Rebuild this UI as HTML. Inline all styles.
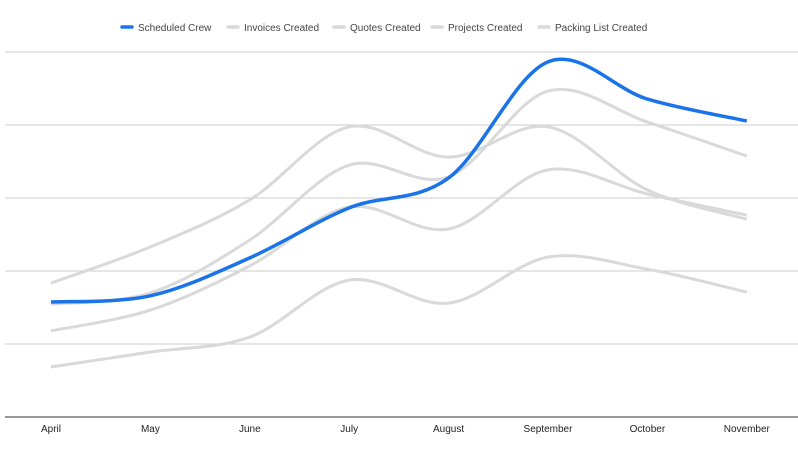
<!DOCTYPE html>
<html><head><meta charset="utf-8"><style>
body{margin:0;background:#fff;font-family:"Liberation Sans",Arial,sans-serif}
svg{display:block}
</style></head><body>
<svg id="chart" width="798" height="456" xmlns="http://www.w3.org/2000/svg"></svg>
<script>
const categories=["April","May","June","July","August","September","October","November"];
const seriesNames=["Scheduled Crew","Invoices Created","Quotes Created","Projects Created","Packing List Created"];
const scheduledCrew=[31.5,33.2,43.6,57.3,65.5,97.3,87.1,81.1];
const invoicesCreated=[36.7,46.6,59.5,79.5,71.2,79.5,62.2,54.2];
const quotesCreated=[30.9,34.0,48.5,69.0,65.8,89.3,80.8,71.5];
const projectsCreated=[23.6,29.3,41.4,57.5,51.5,67.7,61.1,55.3];
const packingListCreated=[13.7,17.8,21.9,37.5,31.2,43.8,40.5,34.2];
const yTicks=[0,20,40,60,80,100];

const NS="http://www.w3.org/2000/svg";
const svg=document.getElementById('chart');
const x=i=>51+i*99.4;
const y=v=>417-v*3.65;
function mk(t,a){const e=document.createElementNS(NS,t);for(const k in a)e.setAttribute(k,a[k]);return e;}
yTicks.forEach(t=>{
  const l=mk('line',{x1:5,x2:798,y1:y(t),y2:y(t),stroke:t===0?'#333':'#ccc','stroke-width':1});
  
  
  svg.appendChild(l);
});
categories.forEach((c,i)=>{
  const t=mk('text',{x:x(i),y:432,'text-anchor':'middle','font-size':10,fill:'#222'});
  t.textContent=c;
  
  
  svg.appendChild(t);
});
function path(vals){
  const p=vals.map((v,i)=>[x(i),y(v)]);
  let d=`M${p[0][0]},${p[0][1]}`;
  for(let i=0;i<p.length-1;i++){
    const p0=p[i-1]||p[i],p1=p[i],p2=p[i+1],p3=p[i+2]||p[i+1];
    const k=1/6;
    d+=` C${p1[0]+(p2[0]-p0[0])*k},${p1[1]+(p2[1]-p0[1])*k} ${p2[0]-(p3[0]-p1[0])*k},${p2[1]-(p3[1]-p1[1])*k} ${p2[0]},${p2[1]}`;
  }
  return d;
}
const greys=[invoicesCreated,quotesCreated,projectsCreated,packingListCreated];
greys.forEach((s,i)=>{
  const e=mk('path',{d:path(s),fill:'none',stroke:'#d9d9d9','stroke-width':3});
  
  
  svg.appendChild(e);
});
const b=mk('path',{d:path(scheduledCrew),fill:'none',stroke:'#1a73e8','stroke-width':3.5});


svg.appendChild(b);
const lx=[122,228,334,432,539];
seriesNames.forEach((n,i)=>{
  const g=mk('g',{});
  
  
  g.appendChild(mk('line',{x1:lx[i],x2:lx[i]+10,y1:27,y2:27,stroke:i===0?'#1a73e8':'#d9d9d9','stroke-width':3.5,'stroke-linecap':'round'}));
  const t=mk('text',{x:lx[i]+16,y:31,'font-size':10,fill:'#444'});
  t.textContent=n;
  g.appendChild(t);
  svg.appendChild(g);
});
</script>
</body></html>
